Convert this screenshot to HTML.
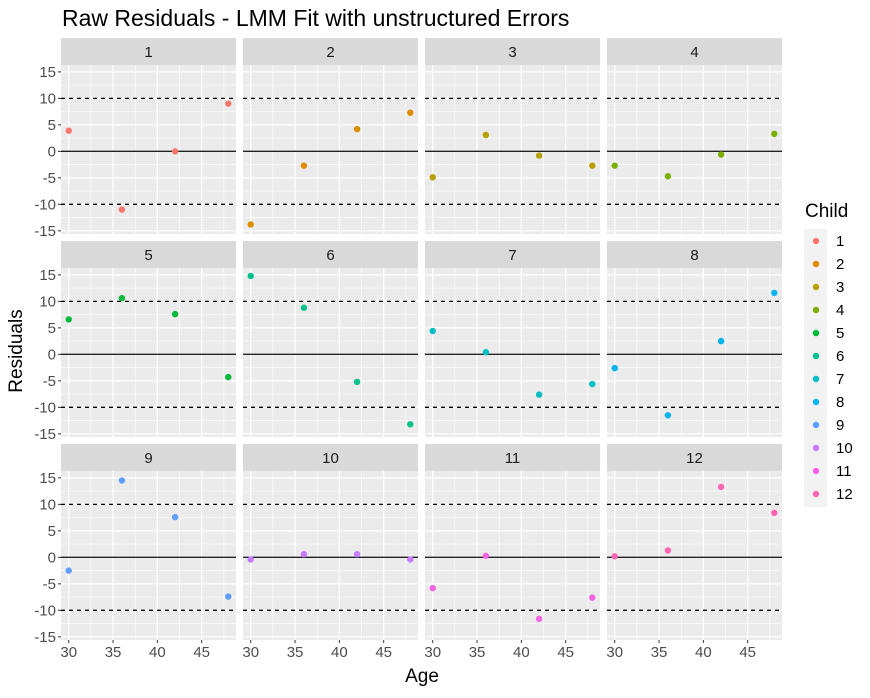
<!DOCTYPE html>
<html><head><meta charset="utf-8"><style>
body{margin:0;background:#fff}
svg{font-family:"Liberation Sans",sans-serif}
</style></head><body>
<svg id="c" width="870" height="693" xmlns="http://www.w3.org/2000/svg">
<text x="62" y="26" font-size="23" fill="#000">Raw Residuals - LMM Fit with unstructured Errors</text>
<text transform="translate(22,351) rotate(-90)" text-anchor="middle" font-size="19">Residuals</text>
<text x="422" y="682" text-anchor="middle" font-size="19">Age</text>
<rect x="804" y="229" width="23" height="278" fill="#f2f2f2"/>
<text x="805" y="217" font-size="19">Child</text>
</svg>
<script>
const children=[1,2,3,4,5,6,7,8,9,10,11,12];
const ages=[30,36,42,48];
const residuals=[
[3.9,-11,0,9],
[-13.8,-2.7,4.2,7.3],
[-4.9,3.1,-0.8,-2.7],
[-2.7,-4.7,-0.6,3.3],
[6.6,10.6,7.6,-4.3],
[14.8,8.8,-5.2,-13.2],
[4.4,0.4,-7.6,-5.6],
[-2.6,-11.5,2.5,11.6],
[-2.5,14.5,7.6,-7.4],
[-0.4,0.6,0.6,-0.4],
[-5.8,0.3,-11.6,-7.6],
[0.2,1.3,13.3,8.4]];
const colors=["#F8766D","#DE8C00","#B79F00","#7CAE00","#00BA38","#00C08B","#00BFC4","#00B4F0","#619CFF","#C77CFF","#F564E3","#FF64B0"];
const yTicks=[-15,-10,-5,0,5,10,15];
const xTicks=[30,35,40,45];
const svg=document.getElementById('c');
const NS="http://www.w3.org/2000/svg";
function mk(t,a,p){const e=document.createElementNS(NS,t);for(const k in a)e.setAttribute(k,a[k]);(p||svg).appendChild(e);return e;}
const PW=175,PH=169,XMIN=29.13,XMAX=48.87,YMIN=-15.6,YMAX=16.3;
for(let i=0;i<12;i++){
 const col=i%4,row=Math.floor(i/4);
 const x0=61+col*182,sy=38+row*203,y0=sy+27;
 const sx=v=>x0+(v-XMIN)/(XMAX-XMIN)*PW;
 const syf=v=>y0+(YMAX-v)/(YMAX-YMIN)*PH;
 const g=mk('g',{});
 
 
 const st=mk('rect',{x:x0,y:sy,width:PW,height:27,fill:'#d9d9d9'},g);
 
 
 const stt=mk('text',{x:x0+PW/2,y:sy+19,'text-anchor':'middle','font-size':15,fill:'#1a1a1a'},g);stt.textContent=children[i];
 
 
 const bg=mk('rect',{x:x0,y:y0,width:PW,height:PH,fill:'#ebebeb'},g);
 
 
 for(let v=-12.5;v<=15;v+=5)mk('line',{x1:x0,x2:x0+PW,y1:syf(v),y2:syf(v),stroke:'#fff','stroke-width':0.6},g);
 for(let v=32.5;v<=47.5;v+=5)mk('line',{x1:sx(v),x2:sx(v),y1:y0,y2:y0+PH,stroke:'#fff','stroke-width':0.6},g);
 yTicks.forEach(v=>mk('line',{x1:x0,x2:x0+PW,y1:syf(v),y2:syf(v),stroke:'#fff','stroke-width':1.2},g));
 xTicks.forEach(v=>mk('line',{x1:sx(v),x2:sx(v),y1:y0,y2:y0+PH,stroke:'#fff','stroke-width':1.2},g));
 mk('line',{x1:x0,x2:x0+PW,y1:syf(0),y2:syf(0),stroke:'#222','stroke-width':1.4},g);
 [10,-10].forEach(v=>mk('line',{x1:x0,x2:x0+PW,y1:syf(v),y2:syf(v),stroke:'#000','stroke-width':1.3,'stroke-dasharray':'4,4'},g));
 if(col===0){yTicks.forEach(v=>{mk('line',{x1:x0-3,x2:x0,y1:syf(v),y2:syf(v),stroke:'#333'},g);
  const t=mk('text',{x:x0-5,y:syf(v)+5,'text-anchor':'end','font-size':15,fill:'#4d4d4d'},g);t.textContent=v;
  
  });}
 if(row===2){xTicks.forEach(v=>{mk('line',{x1:sx(v),x2:sx(v),y1:y0+PH,y2:y0+PH+3,stroke:'#333'},g);
  const t=mk('text',{x:sx(v),y:y0+PH+17,'text-anchor':'middle','font-size':15,fill:'#4d4d4d'},g);t.textContent=v;
  
  });}
 ages.forEach((a,j)=>{const c=mk('circle',{cx:sx(a),cy:syf(residuals[i][j]),r:3.2,fill:colors[i]},g);
  
  });
}
children.forEach((ch,i)=>{
 const y=241+i*23;
 const c=mk('circle',{cx:816,cy:y,r:3.2,fill:colors[i]});
 
 
 const t=mk('text',{x:836,y:y+5,'font-size':15});t.textContent=ch;
 
 
});
</script>
</body></html>
